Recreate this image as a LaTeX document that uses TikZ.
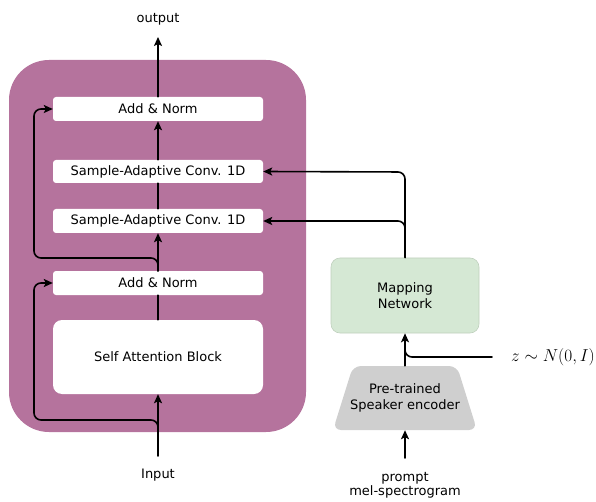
\documentclass[tikz,border=0pt]{standalone}
\usepackage{fontspec}
\setmainfont{DejaVu Sans}
\usetikzlibrary{arrows.meta}
\definecolor{pur}{HTML}{B5739D}
\definecolor{mapg}{HTML}{D5E8D4}
\definecolor{mapb}{HTML}{BFD0BD}
\definecolor{encg}{HTML}{CFCFCF}
\begin{document}
\begin{tikzpicture}[x=1pt,y=-1pt,
  font=\fontsize{13}{16}\selectfont,
  wbox/.style={fill=white,rounded corners=3pt,minimum width=210pt,minimum height=24pt,inner sep=0pt},
  conn/.style={line width=1.6pt,line cap=round,line join=round},
  arr/.style={conn,-{Stealth[length=9pt,width=8pt,inset=2pt]}},
  rc/.style={rounded corners=7pt}]
\useasboundingbox (0,0) rectangle (596,502);
\fill[pur,rounded corners=40pt] (9,60) rectangle (306,432);
\node[wbox] (an2) at (158,109) {Add \& Norm};
\node[wbox,minimum height=23pt] (sac2) at (158,171.5) {Sample-Adaptive Conv. 1D};
\node[wbox] (sac1) at (158,221) {Sample-Adaptive Conv. 1D};
\node[wbox] (an1) at (158,283) {Add \& Norm};
\node[wbox,rounded corners=9pt,minimum height=74pt] (sa) at (158,357) {Self Attention Block};
\node (out) at (158,19) {output};
\node (in) at (158,475) {Input};
\node[fill=mapg,draw=mapb,line width=0.6pt,rounded corners=9pt,minimum width=148pt,minimum height=75pt,align=center,inner sep=0pt] (map) at (405,295.5) {Mapping\\Network};
\fill[encg,rounded corners=8pt] (333,430) -- (353,366) -- (457,366) -- (477,430) -- cycle;
\node[align=center,inner sep=0pt,minimum height=64pt] (enc) at (405,398) {Pre-trained\\Speaker encoder};
\node[align=center,inner sep=0pt] (pr) at (405,478) {prompt};
\node[align=center,inner sep=0pt] (mel) at (405,492) {mel-spectrogram};
\node[anchor=west,inner sep=0pt,font=\fontsize{17.5}{20}\selectfont] (z) at (511,357) {$z\sim N(0,I)$};
\coordinate (inb) at (158,456);
\coordinate (zs) at (492,357);
\coordinate (prs) at (405,458);
% main path
\draw[arr] (inb) -- (sa.south);
\draw[conn] (sa.north) -- (an1.south);
\draw[arr] (an1.north) -- (sac1.south);
\draw[conn] (sac1.north) -- (sac2.south);
\draw[arr] (sac2.north) -- (an2.south);
\draw[arr] (an2.north) -- (158,37) coordinate (oe);
% residuals
\draw[arr,rc] (158,440) -- (158,420) -- (34,420) -- (34,283) -- (an1.west);
\draw[arr,rc] (158,271) -- (158,258) -- (34,258) -- (34,109) -- (an2.west);
% mapping
\draw[arr,rc] (map.north) -- (405,172) -- (sac2.east);
\draw[arr,rc] (405,240) -- (405,221) -- (sac1.east);
% encoder
\draw[arr] (enc.north) -- (map.south);
\draw[conn,rc] (zs) -- (405,357) -- (405,345);
\draw[arr] (prs) -- (enc.south);
\end{tikzpicture}
\end{document}
